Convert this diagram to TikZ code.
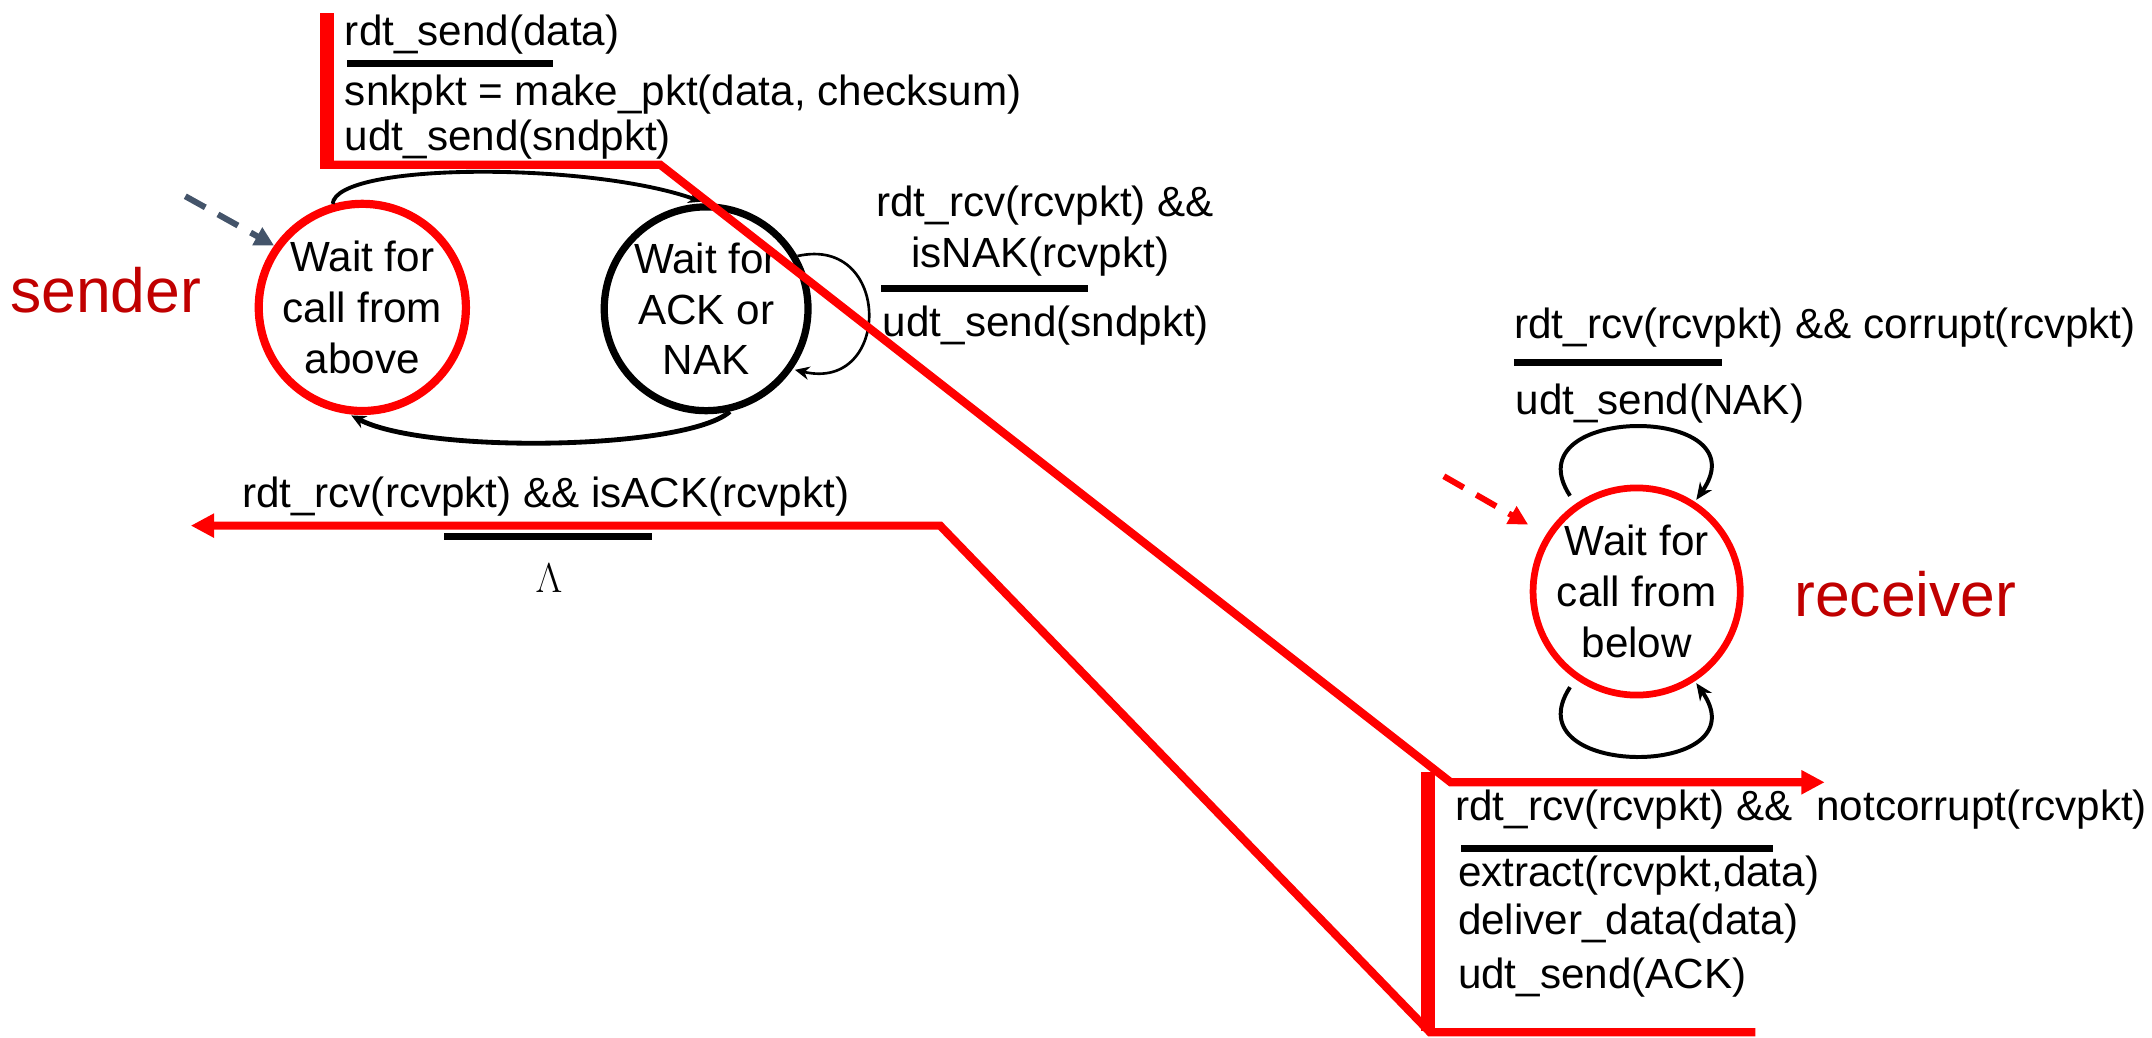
\documentclass[tikz,border=0pt]{standalone}
\usepackage{fontspec}
\setmainfont{Liberation Sans}
\usetikzlibrary{arrows.meta}
\definecolor{hired}{RGB}{255,0,0}
\definecolor{darkred}{RGB}{192,0,0}
\definecolor{slate}{RGB}{68,84,106}

\begin{document}
\begin{tikzpicture}[x=0.02cm, y=0.02cm,
  state/.style={circle, minimum size=2.97cm, inner sep=0pt, align=center,
    font=\fontsize{17.5}{21}\selectfont},
  lbl/.style={anchor=base west, inner sep=0pt, font=\fontsize{17.5}{21}\selectfont},
  side/.style={anchor=base west, inner sep=0pt, text=darkred, font=\fontsize{25.9}{31}\selectfont},
  bar/.style={line width=2.9pt},
  hilite/.style={draw=hired, line width=3.4pt},
  hithick/.style={draw=hired, line width=5.8pt},
  redtip/.style={-{Triangle[length=9.7pt,width=9.5pt]}},
  init/.style={line width=2.5pt, dash pattern=on 9.5pt off 6pt, -{Triangle[length=8pt,width=8pt]}},
  loopline/.style={line width=1.65pt, -{Stealth[length=7pt,width=6pt]}}
]
\useasboundingbox (0,0) rectangle (1568,756);

% states
\node[state, draw=hired, line width=3.4pt] (wa) at (264,532) {Wait for\\call from\\above};
\node[state, draw=black, line width=3pt] (wn) at (514.5,531) {Wait for\\ACK or\\NAK};
\node[state, draw=hired, line width=2.8pt] (wb) at (1192.5,325) {Wait for\\call from\\below};

\node[side] (sndr) at (7,528) {sender};
\node[side] (rcvr) at (1307,306.5) {receiver};

% initial arrows
\coordinate (sa) at (135,613);
\coordinate (sb) at (1052,409);
\draw[init, slate] (sa) -- (wa.145);
\draw[init, hired, shorten >=8.5pt] (sb) -- (wb.148);

% sender transitions
\draw[line width=1.6pt, -{Stealth[length=5.5pt,width=5pt]}, shorten >=2pt]
  (wa.106) .. controls (245,638) and (430,638) .. (wn.north);
\draw[line width=2pt, -{Stealth[length=6pt,width=5.5pt]}, shorten >=1pt]
  (wn.-77) .. controls (500,428) and (310,425) .. (wa.-97);
\draw[line width=1.1pt, -{Stealth[length=6pt,width=5.5pt]}, shorten >=1pt]
  (wn.30) .. controls (650,585) and (650,470) .. (wn.-35);

% receiver loops
\draw[loopline, shorten <=4pt, shorten >=1pt] (wb.125) .. controls (1100,462) and (1285,462) .. (wb.57);
\draw[loopline, shorten <=4pt, shorten >=1pt] (wb.-125) .. controls (1100,188) and (1285,188) .. (wb.-57);

% labels
\node[lbl] (sendev) at (251,723) {rdt\_send(data)};
\draw[bar] (253,709.4) -- (403,709.4);
\node[lbl] (sendmk) at (251,679) {snkpkt = make\_pkt(data, checksum)};
\node[lbl] (sendud) at (251,646) {udt\_send(sndpkt)};

\node[lbl, anchor=base] (nakev) at (761.5,598) {rdt\_rcv(rcvpkt) \&\&};
\node[lbl, anchor=base] (nakis) at (758,561) {isNAK(rcvpkt)};
\draw[bar] (642,546) -- (793,546);
\node[lbl] (nakud) at (643,511) {udt\_send(sndpkt)};

\node[lbl] (ackev) at (176,386) {rdt\_rcv(rcvpkt) \&\& isACK(rcvpkt)};
\draw[bar] (323.6,365.4) -- (475,365.4);
\node[lbl, anchor=center] (acklam) at (400,335) {$\Lambda$};

\node[lbl] (corev) at (1103,509.4) {rdt\_rcv(rcvpkt) \&\& corrupt(rcvpkt)};
\draw[bar] (1103,492) -- (1255,492);
\node[lbl] (corud) at (1104,454) {udt\_send(NAK)};

\node[lbl] (okev) at (1060,158) {rdt\_rcv(rcvpkt) \&\&\ \ notcorrupt(rcvpkt)};
\draw[bar] (1064.6,138) -- (1292,138);
\node[lbl] (okex) at (1062,110) {extract(rcvpkt,data)};
\node[lbl] (okdl) at (1062,75) {deliver\_data(data)};
\node[lbl] (okud) at (1062,36) {udt\_send(ACK)};

% highlighted path
\draw[hithick] (238.5,746.3) -- (238.5,633);
\draw[hilite, redtip] (236,636) -- (481,636) -- (1057,186) -- (1329.5,186);
\draw[hithick] (1040.6,193.3) -- (1040.6,5);
\draw[hilite, redtip] (1279,3.8) -- (1042,3.8) -- (685,373) -- (139,373);
\end{tikzpicture}
\end{document}
